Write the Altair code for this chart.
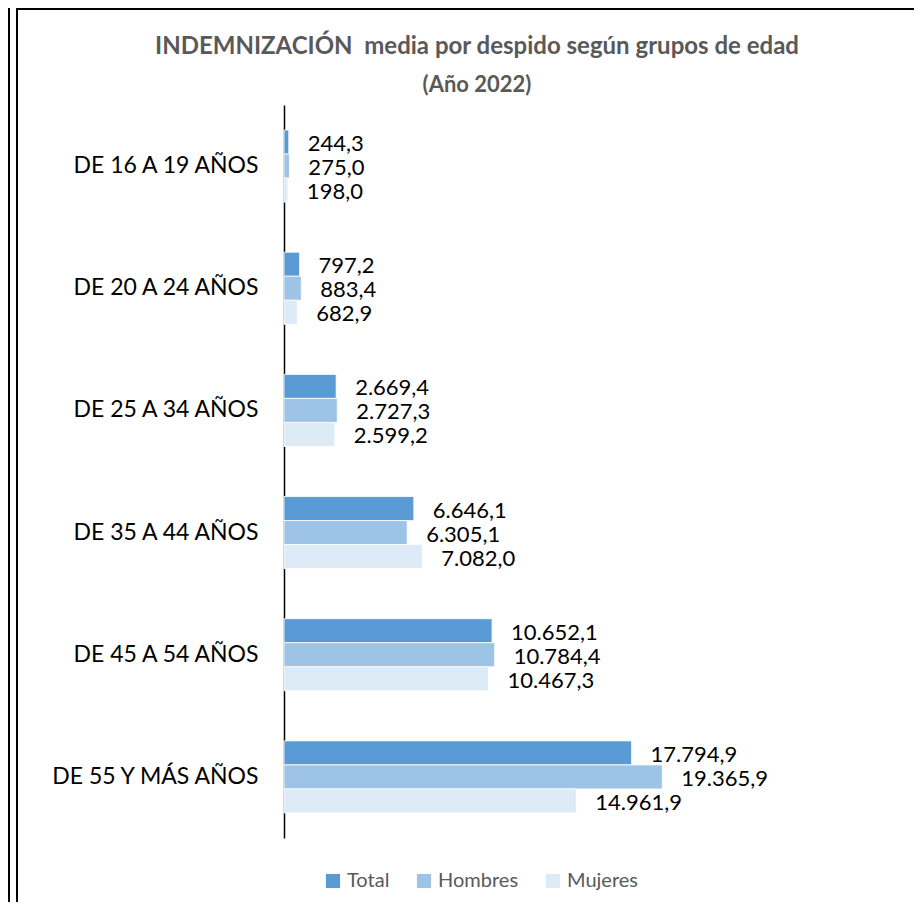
import altair as alt
import pandas as pd

categories = ["DE 16 A 19 AÑOS", "DE 20 A 24 AÑOS", "DE 25 A 34 AÑOS",
              "DE 35 A 44 AÑOS", "DE 45 A 54 AÑOS", "DE 55 Y MÁS AÑOS"]
series = ["Total", "Hombres", "Mujeres"]
total = [244.3, 797.2, 2669.4, 6646.1, 10652.1, 17794.9]
hombres = [275.0, 883.4, 2727.3, 6305.1, 10784.4, 19365.9]
mujeres = [198.0, 682.9, 2599.2, 7082.0, 10467.3, 14961.9]
colors = ["#5B9BD5", "#9DC3E6", "#DDEBF7"]
title_text = "INDEMNIZACIÓN\u00a0 media por despido según grupos de edad"
subtitle_text = "(Año 2022)"


def fmt_es(v):
    s = f"{v:,.1f}"
    return s.replace(",", "X").replace(".", ",").replace("X", ".")


rows = []
for s, vals in zip(series, [total, hombres, mujeres]):
    for c, v in zip(categories, vals):
        rows.append({"categoria": c, "serie": s, "valor": v, "etiqueta": fmt_es(v)})
df = pd.DataFrame(rows)

FONT = "Lato"
GREY = "#595959"

base = alt.Chart(df).encode(
    y=alt.Y("categoria:N", sort=categories,
            scale=alt.Scale(paddingInner=0.41, paddingOuter=0.205),
            axis=alt.Axis(title=None, domainColor="black", domainWidth=1.5,
                          ticks=False, labelFontSize=23, labelColor="black",
                          labelFont=FONT, labelPadding=26, labelLimit=300)),
    yOffset=alt.YOffset("serie:N", sort=series,
                        scale=alt.Scale(paddingInner=0, paddingOuter=0)),
)

bars = base.mark_bar(stroke="white", strokeWidth=0.8).encode(
    x=alt.X("valor:Q", scale=alt.Scale(domain=[0, 30000], nice=False), axis=None),
    color=alt.Color("serie:N", sort=series,
                    scale=alt.Scale(domain=series, range=colors),
                    legend=alt.Legend(title=None, orient="none", legendX=39, legendY=766,
                                      direction="horizontal", symbolType="square",
                                      symbolSize=200, symbolStrokeWidth=0,
                                      labelFontSize=20, labelFont=FONT,
                                      labelColor=GREY, columnPadding=24,
                                      labelOffset=4)),
)

labels = base.mark_text(align="left", baseline="middle", dx=19, dy=2,
                        fontSize=22, font=FONT, color="black").encode(
    x=alt.X("valor:Q"),
    text="etiqueta:N",
)

one = pd.DataFrame({"k": [0]})
left_outer = alt.Chart(one).mark_rule(color="black", strokeWidth=2).encode(
    x=alt.value(-275), y=alt.value(-100), y2=alt.value(820))
left_inner = alt.Chart(one).mark_rule(color="black", strokeWidth=2).encode(
    x=alt.value(-267), y=alt.value(-97), y2=alt.value(820))
top_line = alt.Chart(one).mark_rule(color="black", strokeWidth=3).encode(
    x=alt.value(-268), x2=alt.value(640), y=alt.value(-96.5))

title_mark = alt.Chart(one).mark_text(
    align="center", baseline="middle", fontSize=24, font=FONT,
    fontWeight="bold", color=GREY).encode(
    x=alt.value(193), y=alt.value(-58), text=alt.value(title_text))
subtitle_mark = alt.Chart(one).mark_text(
    align="center", baseline="middle", fontSize=22, font=FONT,
    fontWeight="bold", color=GREY).encode(
    x=alt.value(193), y=alt.value(-20), text=alt.value(subtitle_text))

chart = alt.layer(bars, labels, left_outer, left_inner, top_line,
                  title_mark, subtitle_mark).properties(
    width=586,
    height=733,
    autosize=alt.AutoSizeParams(type="none"),
    padding={"left": 276, "top": 97, "right": 44, "bottom": 64},
).configure_view(stroke=None)

chart.save("out.html", embed_options={"renderer": "svg", "actions": False})
